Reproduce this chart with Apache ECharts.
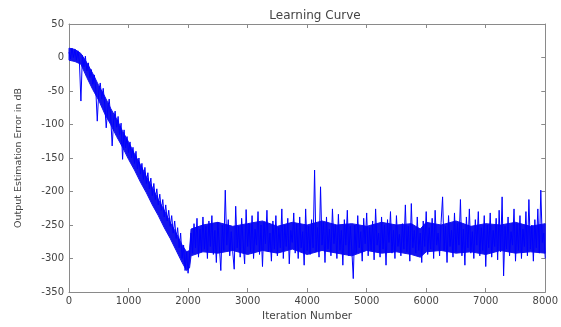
<!DOCTYPE html>
<html>
<head>
<meta charset="utf-8">
<script src="https://cdn.jsdelivr.net/npm/echarts@6/dist/echarts.min.js"></script>
<style>
  html, body { margin: 0; padding: 0; background: #fff; }
  #chart { width: 561px; height: 327px; }
</style>
</head>
<body>
<div id="chart"></div>
<script>
// one sample every 25 iterations
const iterStep = 25
const xTicks = [0, 1000, 2000, 3000, 4000, 5000, 6000, 7000, 8000]
const yTicks = [-350, -300, -250, -200, -150, -100, -50, 0, 50]

// iterations 0 .. 2025 : convergence phase
const convergeDb = [
  8, -2, 14, 0, 12, -4, 10, -6, -65, 3,
  -14, 2, -20, -8, -30, -18, -40, -26, -48, -95,
  -50, -38, -62, -46, -70, -105, -78, -62, -88, -132,
  -94, -80, -104, -88, -115, -98, -152, -108, -135, -118,
  -142, -126, -150, -134, -158, -140, -166, -150, -174, -158,
  -182, -164, -188, -172, -196, -180, -206, -188, -212, -196,
  -220, -204, -228, -212, -238, -220, -244, -228, -252, -236,
  -262, -244, -270, -254, -284, -262, -300, -280, -318, -290,
  -322, -296
]

// iterations 2050 .. 8000 : steady state
const steadyDb = [
  -262, -292, -248, -284, -240, -298, -256, -290, -238, -286,
  -252, -300, -244, -282, -236, -294, -258, -306, -246, -280,
  -318, -250, -288, -198, -280, -242, -296, -260, -290, -316,
  -222, -284, -252, -298, -240, -276, -308, -227, -282, -248,
  -290, -236, -300, -256, -280, -230, -294, -250, -312, -246,
  -278, -228, -290, -262, -304, -244, -286, -236, -296, -254,
  -284, -226, -300, -250, -282, -240, -308, -258, -276, -232,
  -292, -248, -300, -238, -284, -260, -310, -226, -288, -252,
  -294, -242, -284, -168, -290, -254, -298, -193, -280, -246,
  -306, -238, -286, -256, -296, -226, -278, -250, -300, -234,
  -288, -258, -310, -242, -280, -228, -296, -252, -286, -330,
  -250, -292, -236, -284, -260, -304, -240, -278, -232, -296,
  -254, -288, -244, -302, -226, -280, -262, -298, -238, -286,
  -250, -310, -242, -276, -230, -292, -258, -300, -236, -282,
  -264, -296, -248, -286, -220, -290, -252, -304, -218, -284,
  -258, -292, -238, -288, -262, -306, -244, -282, -230, -294,
  -254, -286, -240, -300, -228, -280, -262, -296, -246, -208,
  -288, -252, -306, -236, -282, -258, -298, -232, -290, -248,
  -280, -212, -296, -256, -310, -238, -284, -226, -292, -260,
  -300, -242, -280, -230, -296, -254, -288, -236, -312, -250,
  -284, -232, -298, -258, -282, -240, -302, -228, -290, -208,
  -326, -252, -286, -238, -296, -260, -280, -226, -304, -248,
  -288, -236, -300, -256, -282, -230, -296, -212, -286, -250,
  -304, -242, -284, -226, -292, -198, -276, -262, -300
]

// dense core of the noise band (where the trace is solid blue)
const bandIter = [
  0, 100, 200, 300, 400, 500, 600, 700, 800, 900,
  1000, 1100, 1200, 1300, 1400, 1500, 1600, 1700, 1800, 1900,
  1975, 2025, 2050, 2250, 2500, 2750, 3000, 3250, 3500, 3750,
  4000, 4250, 4500, 4750, 5000, 5250, 5500, 5750, 5900, 6000,
  6250, 6500, 6750, 7000, 7250, 7500, 7750, 8000
]
const bandHigh = [
  14, 12, 6, -8, -24, -42, -58, -76, -92, -110,
  -126, -144, -160, -178, -194, -212, -228, -246, -262, -280,
  -290, -288, -256, -250, -246, -252, -248, -244, -252, -246,
  -250, -244, -250, -248, -252, -246, -250, -248, -256, -246,
  -250, -244, -252, -248, -250, -246, -252, -248
]
const bandLow = [
  -4, -6, -10, -30, -48, -64, -84, -100, -118, -134,
  -152, -168, -186, -202, -220, -236, -254, -270, -288, -306,
  -318, -314, -296, -290, -292, -288, -294, -288, -292, -286,
  -294, -288, -292, -296, -288, -292, -290, -294, -298, -290,
  -288, -292, -290, -294, -288, -292, -290, -292
]

const errorDb = convergeDb.concat(steadyDb)
const seriesData = errorDb.map((v, i) => [i * iterStep, v])
const bandData = bandIter.map((x, i) => [x, bandLow[i], bandHigh[i]])

const fontFamily = 'DejaVu Sans, Liberation Sans, sans-serif'
const axisColor = '#8a8a8a'
const labelStyle = { color: '#444', fontSize: 10, fontFamily }
const traceColor = '#0000ff'
const bandColor = '#1414ee'

// band drawn as one polygon: upper edge left->right, lower edge right->left
function renderBand (params, api) {
  if (params.dataIndex !== 0) return null
  const upper = bandData.map(d => api.coord([d[0], d[2]]))
  const lower = bandData.slice().reverse().map(d => api.coord([d[0], d[1]]))
  return {
    type: 'polygon',
    shape: { points: upper.concat(lower) },
    style: { fill: bandColor, stroke: bandColor, lineWidth: 1 }
  }
}

const chart = echarts.init(document.getElementById('chart'), null, { renderer: 'canvas' })
chart.setOption({
  animation: false,
  backgroundColor: '#fff',
  title: {
    text: 'Learning Curve',
    left: 310,
    top: 5,
    textAlign: 'center',
    textStyle: { color: '#444', fontSize: 12, fontWeight: 'normal', fontFamily }
  },
  grid: { left: 69, right: 9, top: 24, bottom: 32, containLabel: false },
  xAxis: [
    {
      type: 'value',
      min: xTicks[0],
      max: xTicks[xTicks.length - 1],
      interval: 1000,
      name: 'Iteration Number',
      nameLocation: 'middle',
      nameGap: 19,
      nameTextStyle: { ...labelStyle, fontSize: 10.5 },
      axisLine: { show: true, onZero: false, lineStyle: { color: axisColor, width: 1 } },
      axisTick: { show: true, inside: true, length: 4, lineStyle: { color: axisColor } },
      axisLabel: { show: true, margin: 4, formatter: v => String(v), ...labelStyle },
      splitLine: { show: false }
    },
    {
      type: 'value',
      position: 'top',
      min: xTicks[0],
      max: xTicks[xTicks.length - 1],
      interval: 1000,
      axisLine: { show: true, onZero: false, lineStyle: { color: axisColor, width: 1 } },
      axisTick: { show: true, inside: true, length: 4, lineStyle: { color: axisColor } },
      axisLabel: { show: false },
      splitLine: { show: false }
    }
  ],
  yAxis: [
    {
      type: 'value',
      min: yTicks[0],
      max: yTicks[yTicks.length - 1],
      interval: 50,
      name: 'Output Estimation Error in dB',
      nameLocation: 'middle',
      nameGap: 45,
      nameTextStyle: { ...labelStyle, fontSize: 9.5 },
      axisLine: { show: true, onZero: false, lineStyle: { color: axisColor, width: 1 } },
      axisTick: { show: true, inside: true, length: 4, lineStyle: { color: axisColor } },
      axisLabel: { show: true, margin: 5, ...labelStyle },
      splitLine: { show: false }
    },
    {
      type: 'value',
      position: 'right',
      min: yTicks[0],
      max: yTicks[yTicks.length - 1],
      interval: 50,
      axisLine: { show: true, onZero: false, lineStyle: { color: axisColor, width: 1 } },
      axisTick: { show: true, inside: true, length: 4, lineStyle: { color: axisColor } },
      axisLabel: { show: false },
      splitLine: { show: false }
    }
  ],
  series: [
    {
      type: 'custom',
      renderItem: renderBand,
      data: bandData,
      encode: { x: 0, y: [1, 2] },
      silent: true,
      z: 1
    },
    {
      type: 'line',
      data: seriesData,
      showSymbol: false,
      symbol: 'none',
      sampling: null,
      lineStyle: { color: traceColor, width: 1 },
      z: 2
    }
  ]
})
</script>
</body>
</html>
